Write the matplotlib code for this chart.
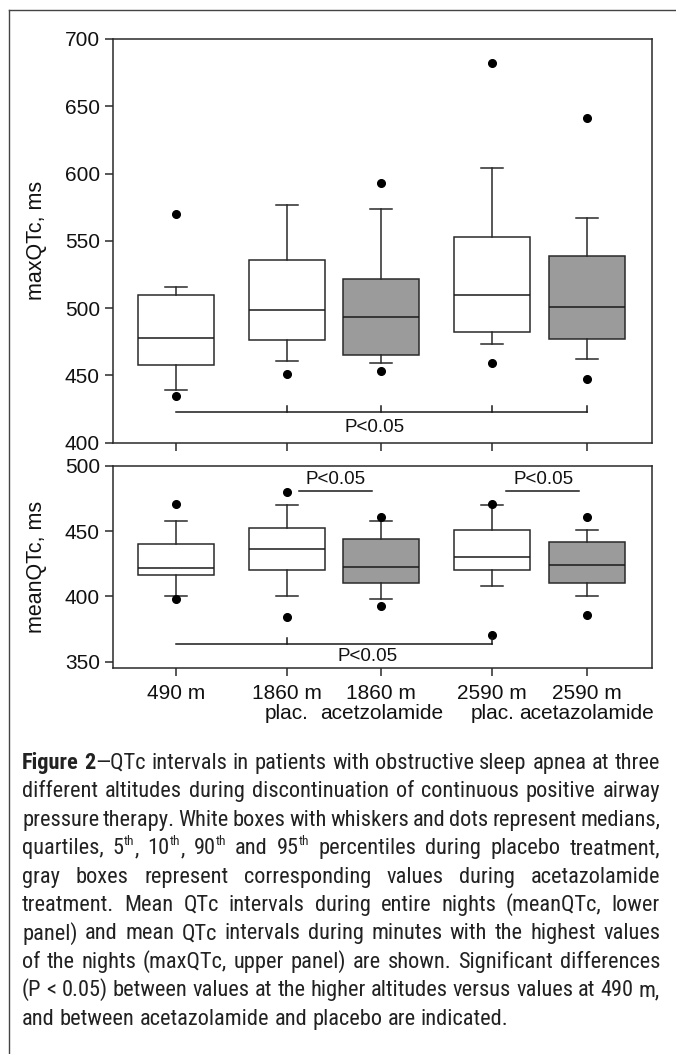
import re
import numpy as np
import matplotlib
matplotlib.use("Agg")
import matplotlib.pyplot as plt
from matplotlib import font_manager
from matplotlib.lines import Line2D

# box positions / labels
labels = ["490 m", "1860 m", "1860 m", "2590 m", "2590 m"]
sublabels = ["", "plac.", "acetzolamide", "plac.", "acetazolamide"]
positions = [1, 2, 2.85, 3.85, 4.7]
is_acet = [False, False, True, False, True]

# maxQTc (upper panel): 5th, 10th, 25th, 50th, 75th, 90th, 95th percentiles
max_p5 = [435, 451, 453.5, 459.5, 447]
max_p10 = [439, 461, 459.5, 473.5, 462]
max_q1 = [457.5, 476.5, 465, 482.5, 477]
max_med = [478, 498.5, 493.5, 509.5, 501]
max_q3 = [509.5, 535.5, 521.5, 552.5, 538.5]
max_p90 = [515.5, 577, 573.5, 604, 567]
max_p95 = [570, np.nan, 593, 682.5, 641]

# meanQTc (lower panel)
mean_p5 = [398, 384, 392.5, 370.5, 385.5]
mean_p10 = [400.5, 400.5, 398, 408, 400.5]
mean_q1 = [416.5, 420, 410, 420, 410]
mean_med = [422, 436, 422.5, 430, 424]
mean_q3 = [440, 452, 444, 450.5, 442]
mean_p90 = [458, 470, 458, 470, 450.5]
mean_p95 = [470.5, 480, 460.5, 470.5, 460.5]

caption = [
    "*Figure* *2*—QTc intervals in patients with obstructive sleep apnea at three",
    "different altitudes during discontinuation of continuous positive airway",
    "pressure therapy. White boxes with whiskers and dots represent medians,",
    "quartiles, 5^{th}, 10^{th}, 90^{th} and 95^{th} percentiles during placebo treatment,",
    "gray boxes represent corresponding values during acetazolamide",
    "treatment. Mean QTc intervals during entire nights (meanQTc, lower",
    "panel) and mean QTc intervals during minutes with the highest values",
    "of the nights (maxQTc, upper panel) are shown. Significant differences",
    "(P < 0.05) between values at the higher altitudes versus values at 490 m,",
    "and between acetazolamide and placebo are indicated.",
]


def pick(fams):
    for f in fams:
        try:
            font_manager.findfont(f, fallback_to_default=False)
            return f
        except ValueError:
            pass
    return "DejaVu Sans"


main_font = pick(["Liberation Sans", "Arial"])
cap_font = pick(["Liberation Sans Narrow", "Arial Narrow", "Roboto Condensed",
                 "Open Sans Condensed", "DejaVu Sans Condensed", "Noto Sans Condensed",
                 "Liberation Sans"])
plt.rcParams["font.family"] = [main_font, "DejaVu Sans"]

W, H = 676, 1054
fig = plt.figure(figsize=(W / 100, H / 100), dpi=100)


def make_axes(top, bottom):
    left, right = 113, 652
    return fig.add_axes([left / W, 1 - bottom / H, (right - left) / W, (bottom - top) / H])


ax1 = make_axes(39, 442.7)
ax2 = make_axes(465.7, 668.3)

ink = "#2a2a2a"


def stats_of(p5, p10, q1, med, q3, p90, p95):
    out = []
    for i in range(len(med)):
        fl = [v for v in (p5[i], p95[i]) if not np.isnan(v)]
        out.append(dict(whislo=p10[i], q1=q1[i], med=med[i], q3=q3[i], whishi=p90[i], fliers=fl))
    return out


def draw_boxes(ax, stats):
    res = ax.bxp(stats, positions=positions, widths=0.685, capwidths=0.2,
                 patch_artist=True, showfliers=True,
                 boxprops=dict(edgecolor=ink, linewidth=1.1),
                 whiskerprops=dict(color=ink, linewidth=1.1),
                 capprops=dict(color=ink, linewidth=1.1),
                 medianprops=dict(color="#1a1a1a", linewidth=1.1),
                 flierprops=dict(marker="o", markerfacecolor="black", markeredgecolor="black",
                                 markersize=5.5, linestyle="none"))
    for box, acet in zip(res["boxes"], is_acet):
        box.set_facecolor("#9b9b9b" if acet else "white")


draw_boxes(ax1, stats_of(max_p5, max_p10, max_q1, max_med, max_q3, max_p90, max_p95))
draw_boxes(ax2, stats_of(mean_p5, mean_p10, mean_q1, mean_med, mean_q3, mean_p90, mean_p95))

for ax in (ax1, ax2):
    ax.set_xlim(0.4324, 5.288)
    ax.set_xticks(positions)
    ax.tick_params(direction="out", length=6, width=1.1, labelsize=15, color=ink,
                   labelcolor="#111111")
    for sp in ax.spines.values():
        sp.set_linewidth(1.1)
        sp.set_color(ink)

ax1.set_ylim(400, 700)
ax1.set_yticks(np.arange(400, 701, 50))
ax1.set_xticklabels([])
ax1.set_ylabel("maxQTc, ms", fontsize=15.5, color="#111111")

ax2.set_ylim(345, 500)
ax2.set_yticks(np.arange(350, 501, 50))
ax2.set_xticklabels(labels)
ax2.tick_params(axis="x", pad=5)
ax2.set_ylabel("meanQTc, ms", fontsize=15.5, color="#111111")

# second row of x labels (treatment)
for x, s in zip(positions, sublabels):
    if s:
        ax2.text(x, -45 / 202.6, s, transform=ax2.get_xaxis_transform(), fontsize=15,
                 ha="center", va="center", color="#111111")

# y label centres at x = 37 px
for ax in (ax1, ax2):
    ax.yaxis.set_label_coords((47 - 113) / 539, 0.5)

br = dict(color="#1a1a1a", linewidth=1.1)
ptxt = dict(fontsize=13.5, ha="center", va="center", color="#111111")

# upper panel bracket 490 m vs others
ax1.plot([1, 4.7], [423, 423], **br)
for x in positions[1:]:
    ax1.plot([x, x], [423, 427.5], **br)
ax1.text(2.79, 411, "P<0.05", **ptxt)

# lower panel
ax2.plot([1, 3.85], [363.6, 363.6], **br)
for x in (2, 3.85):
    ax2.plot([x, x], [363.6, 368], **br)
ax2.text(2.73, 354.4, "P<0.05", **ptxt)
for x0, x1, xt in ((2.11, 2.77, 2.44), (3.97, 4.63, 4.31)):
    ax2.plot([x0, x1], [480.6, 480.6], **br)
    ax2.text(xt, 489.6, "P<0.05", **ptxt)

# frame lines (top and left)
fig.add_artist(Line2D([8.5 / W, 1], [1 - 9.5 / H, 1 - 9.5 / H], color="#444444", lw=1.0))
fig.add_artist(Line2D([8.5 / W, 8.5 / W], [1 - 9.5 / H, 0], color="#444444", lw=1.0))

# caption, justified
renderer = fig.canvas.get_renderer()
x_left, x_right = 22, 660


def segments(word):
    segs = []
    for part in re.split(r"(\^\{[^}]*\}|\*[^*]*\*)", word):
        if not part:
            continue
        if part.startswith("^{"):
            segs.append((part[2:-1], "sup"))
        elif part.startswith("*"):
            segs.append((part[1:-1], "bold"))
        else:
            segs.append((part, "normal"))
    return segs


def seg_width(s, kind, fs):
    t = fig.text(0, 0, s, fontsize=fs * (0.6 if kind == "sup" else 1),
                 fontweight="bold" if kind == "bold" else "normal", family=cap_font)
    w = t.get_window_extent(renderer).width
    t.remove()
    return w


def word_width(word, fs):
    return sum(seg_width(s, k, fs) for s, k in segments(word))


def space_width(fs):
    return seg_width("a a", "normal", fs) - seg_width("aa", "normal", fs)


# size the caption so the first line fills the width
fs0 = 14.0
w0 = sum(word_width(w, fs0) for w in caption[0].split()) + space_width(fs0) * (len(caption[0].split()) - 1)
cap_fs = fs0 * (x_right - x_left) / w0

base0, step = 769, 28.4
for i, line in enumerate(caption):
    words = line.split()
    widths = [word_width(w, cap_fs) for w in words]
    if i < len(caption) - 1:
        gap = (x_right - x_left - sum(widths)) / (len(words) - 1)
    else:
        gap = space_width(cap_fs)
    x = x_left
    yb = base0 + step * i
    for w, wd in zip(words, widths):
        xx = x
        for s, k in segments(w):
            fsz = cap_fs * (0.6 if k == "sup" else 1)
            dy = -cap_fs * 0.55 if k == "sup" else 0
            t = fig.text(xx / W, 1 - (yb + dy) / H, s, fontsize=fsz, family=cap_font,
                         fontweight="bold" if k == "bold" else "normal",
                         ha="left", va="baseline", color="#222222")
            xx += t.get_window_extent(renderer).width
        x += wd + gap

fig.savefig("out.png", dpi=100)
